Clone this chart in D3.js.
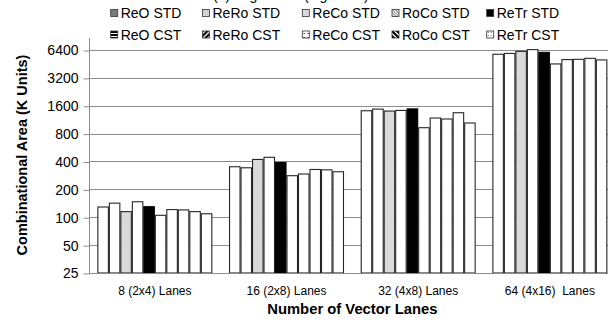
<!DOCTYPE html>
<html>
<head>
<meta charset="utf-8">
<script src="https://cdn.jsdelivr.net/npm/d3@7"></script>
<style>
  html, body { margin: 0; padding: 0; background: #fff; }
  svg { display: block; font-family: "Liberation Sans", Arial, sans-serif; }
</style>
</head>
<body>
<svg id="chart" width="608" height="325"></svg>
<script>
// Lane configurations on the x axis
const categories = ["8 (2x4) Lanes", "16 (2x8) Lanes", "32 (4x8) Lanes", "64 (4x16)  Lanes"];

// Design variants (one bar each per lane configuration)
const seriesNames = ["ReO STD", "ReRo STD", "ReCo STD", "RoCo STD", "ReTr STD",
                     "ReO CST", "ReRo CST", "ReCo CST", "RoCo CST", "ReTr CST"];

// Combinational area in K units, per lane configuration
const reoStd  = [129, 351, 1413, 5760];
const reroStd = [142, 342, 1472, 5880];
const recoStd = [115, 421, 1402, 6190];
const rocoStd = [147, 444, 1424, 6460];
const retrStd = [130, 390, 1480, 6040];
const reoCst  = [105, 281,  927, 4525];
const reroCst = [121, 293, 1179, 5040];
const recoCst = [120, 328, 1151, 5080];
const rocoCst = [115, 325, 1345, 5200];
const retrCst = [109, 310, 1042, 5000];

const seriesValues = [reoStd, reroStd, recoStd, rocoStd, retrStd,
                      reoCst, reroCst, recoCst, rocoCst, retrCst];

// Log2 axis ticks
const yTicks = [25, 50, 100, 200, 400, 800, 1600, 3200, 6400];

// Bar fills and legend swatches
const barFill = ["#ffffff", "#ffffff", "#d9d9d9", "#ffffff", "#000000",
                 "#ffffff", "#ffffff", "#ffffff", "#ffffff", "#ffffff"];
const swatchFill = ["url(#p-reo-std)", "url(#p-rero-std)", "#d9d9d9", "url(#p-roco-std)", "#000000",
                    "url(#p-reo-cst)", "url(#p-rero-cst)", "url(#p-reco-cst)", "url(#p-roco-cst)", "url(#p-retr-cst)"];

const svg = d3.select("#chart");
const margin = { left: 89, right: 615.7, top: 50, bottom: 273 };

const defs = svg.append("defs");
function pattern(id, size, draw) {
  const p = defs.append("pattern").attr("id", id)
    .attr("patternUnits", "userSpaceOnUse").attr("width", size).attr("height", size);
  draw(p);
}
pattern("p-reo-std", 2, p => {
  p.append("rect").attr("width", 2).attr("height", 2).attr("fill", "#6e6e6e");
  p.append("rect").attr("width", 1).attr("height", 1).attr("fill", "#9a9a9a");
});
pattern("p-rero-std", 3, p => {
  p.append("rect").attr("width", 3).attr("height", 3).attr("fill", "#fff");
  p.append("path").attr("d", "M0,3L3,0M-1,1L1,-1M2,4L4,2").attr("stroke", "#777").attr("stroke-width", 1);
});
pattern("p-roco-std", 3, p => {
  p.append("rect").attr("width", 3).attr("height", 3).attr("fill", "#fff");
  p.append("path").attr("d", "M0,0L3,3M-1,2L1,4M2,-1L4,1").attr("stroke", "#555").attr("stroke-width", 1);
});
pattern("p-reo-cst", 3, p => {
  p.append("rect").attr("width", 3).attr("height", 3).attr("fill", "#fff");
  p.append("rect").attr("y", 0).attr("width", 3).attr("height", 2).attr("fill", "#000");
});
pattern("p-rero-cst", 5, p => {
  p.append("rect").attr("width", 5).attr("height", 5).attr("fill", "#fff");
  p.append("path").attr("d", "M0,5L5,0M-2,2L2,-2M3,7L7,3").attr("stroke", "#000").attr("stroke-width", 2.2);
});
pattern("p-roco-cst", 5, p => {
  p.append("rect").attr("width", 5).attr("height", 5).attr("fill", "#fff");
  p.append("path").attr("d", "M0,0L5,5M-2,3L2,7M3,-2L7,2").attr("stroke", "#000").attr("stroke-width", 2.2);
});
pattern("p-reco-cst", 4, p => {
  p.append("rect").attr("width", 4).attr("height", 4).attr("fill", "#fff");
  p.append("rect").attr("x", 1).attr("y", 2).attr("width", 2).attr("height", 1).attr("fill", "#666");
});
pattern("p-retr-cst", 3, p => {
  p.append("rect").attr("width", 3).attr("height", 3).attr("fill", "#fff");
  p.append("rect").attr("x", 1).attr("y", 1).attr("width", 1).attr("height", 1).attr("fill", "#666");
});

// Scales
const x0 = d3.scaleBand().domain(categories)
  .range([margin.left, margin.right]).paddingInner(0.127).paddingOuter(0.0635);
const x1 = d3.scaleBand().domain(seriesNames).range([0, x0.bandwidth()]).padding(0);
const y = d3.scaleLog().base(2).domain([25, 6400]).range([margin.bottom, margin.top]);

// Panel caption, sitting above the top edge of the figure
svg.append("text").attr("x", 213).attr("y", -0.5)
  .attr("font-size", 14).attr("fill", "#000")
  .text("(a) Logic Area (log scale)");

// Gridlines
svg.append("g").selectAll("line").data(yTicks.slice(1)).join("line")
  .attr("x1", margin.left).attr("x2", 608)
  .attr("y1", d => Math.round(y(d)) + 0.5).attr("y2", d => Math.round(y(d)) + 0.5)
  .attr("stroke", "#8c8c8c").attr("stroke-width", 1);

// Y axis
const yAxis = d3.axisLeft(y).tickValues(yTicks).tickFormat(d3.format("d"))
  .tickSizeInner(6).tickSizeOuter(0).tickPadding(5);
const gy = svg.append("g").attr("transform", `translate(${margin.left + 0.5},0.5)`).call(yAxis);
gy.select(".domain").remove();
gy.selectAll(".tick line").attr("stroke", "#8c8c8c");
gy.selectAll(".tick text").attr("font-size", 14).attr("fill", "#000")
  .attr("font-family", "Liberation Sans, Arial, sans-serif");
svg.append("line").attr("x1", margin.left + 0.5).attr("x2", margin.left + 0.5)
  .attr("y1", 38).attr("y2", margin.bottom + 0.5).attr("stroke", "#8c8c8c");

// Bars
const groups = svg.append("g").selectAll("g").data(categories).join("g")
  .attr("transform", d => `translate(${x0(d)},0)`);
groups.selectAll("rect")
  .data((c, ci) => seriesNames.map((s, si) => ({ s, si, v: seriesValues[si][ci] })))
  .join("rect")
  .attr("x", d => x1(d.s) + 0.5)
  .attr("width", x1.bandwidth() - 1)
  .attr("y", d => y(d.v))
  .attr("height", d => y(25) - y(d.v))
  .attr("fill", d => barFill[d.si])
  .attr("stroke", d => d.si === 4 ? "#000" : "#262626")
  .attr("stroke-width", 1.1);

// X axis baseline
svg.append("line").attr("x1", margin.left).attr("x2", 608)
  .attr("y1", margin.bottom + 0.5).attr("y2", margin.bottom + 0.5).attr("stroke", "#8c8c8c");

// Category labels
const xAxis = d3.axisBottom(x0).tickSize(0).tickPadding(13);
const gx = svg.append("g").attr("transform", `translate(0,${margin.bottom})`).call(xAxis);
gx.select(".domain").remove();
gx.selectAll(".tick text").attr("font-size", 12).attr("fill", "#000")
  .attr("font-family", "Liberation Sans, Arial, sans-serif")
  .style("white-space", "pre");

// Axis titles
svg.append("text").attr("x", (margin.left + margin.right) / 2).attr("y", 314)
  .attr("text-anchor", "middle").attr("font-size", 14.8).attr("font-weight", "bold")
  .text("Number of Vector Lanes");
svg.append("text").attr("transform", "translate(27,155) rotate(-90)")
  .attr("text-anchor", "middle").attr("font-size", 14.5).attr("font-weight", "bold")
  .text("Combinational Area (K Units)");

// Legend: two rows of five
const legendCols = [110.7, 202.5, 302.3, 392, 486.7];
const legendRows = [9.5, 31];
const legend = svg.append("g").selectAll("g").data(seriesNames).join("g")
  .attr("transform", (d, i) => `translate(${legendCols[i % 5]},${legendRows[Math.floor(i / 5)]})`);
legend.append("rect").attr("width", 7).attr("height", 7)
  .attr("fill", (d, i) => swatchFill[i]).attr("stroke", "#333").attr("stroke-width", 0.8);
legend.append("text").attr("x", 10).attr("y", 8.5)
  .attr("font-size", 14).attr("fill", "#000").text(d => d);
</script>
</body>
</html>
